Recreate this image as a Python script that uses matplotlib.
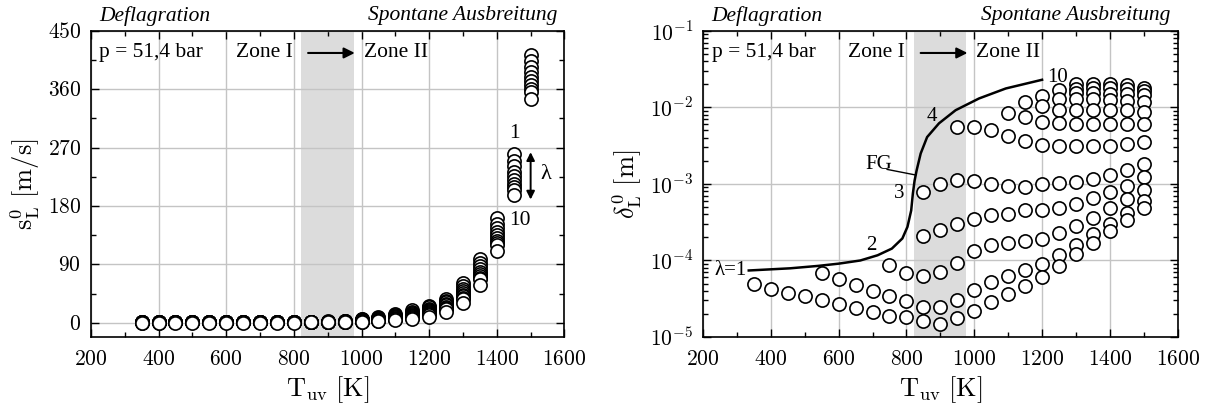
import numpy as np
import matplotlib
matplotlib.use("Agg")
import matplotlib.pyplot as plt
from matplotlib.ticker import MultipleLocator, FuncFormatter, LogLocator, NullFormatter

plt.rcParams['font.family'] = ['Liberation Serif', 'DejaVu Serif']
plt.rcParams['mathtext.fontset'] = 'cm'

# ---- left panel: laminar flame speed, 10 lambda values per temperature
T_left = [350, 400, 450, 500, 550, 600, 650, 700, 750, 800, 850, 900,
          950, 1000, 1050, 1100, 1150, 1200, 1250, 1300, 1350, 1400, 1450, 1500]
s_left = [
    [0.9, 0.8, 0.7, 0.6, 0.5, 0.5, 0.4, 0.4, 0.3, 0.3],
    [0.9, 0.8, 0.7, 0.6, 0.5, 0.5, 0.4, 0.4, 0.3, 0.3],
    [1.0, 0.9, 0.8, 0.7, 0.6, 0.5, 0.5, 0.4, 0.4, 0.3],
    [1.0, 0.9, 0.8, 0.7, 0.6, 0.5, 0.5, 0.4, 0.4, 0.3],
    [1.0, 0.9, 0.8, 0.7, 0.6, 0.6, 0.5, 0.4, 0.4, 0.3],
    [1.1, 0.9, 0.8, 0.7, 0.6, 0.6, 0.5, 0.4, 0.4, 0.3],
    [1.1, 1.0, 0.9, 0.8, 0.7, 0.6, 0.5, 0.5, 0.4, 0.3],
    [1.1, 1.0, 0.9, 0.8, 0.7, 0.6, 0.5, 0.5, 0.4, 0.3],
    [1.2, 1.0, 0.9, 0.8, 0.7, 0.6, 0.6, 0.5, 0.4, 0.3],
    [1.2, 1.1, 0.9, 0.8, 0.7, 0.6, 0.6, 0.5, 0.4, 0.3],
    [1.5, 1.3, 1.2, 1.0, 0.9, 0.8, 0.7, 0.6, 0.5, 0.4],
    [2.0, 1.8, 1.6, 1.4, 1.2, 1.1, 1.0, 0.9, 0.8, 0.6],
    [3.0, 2.7, 2.4, 2.1, 1.9, 1.7, 1.5, 1.3, 1.2, 0.9],
    [6.0, 5.2, 4.5, 3.9, 3.4, 2.9, 2.5, 2.1, 1.8, 1.2],
    [9.0, 7.9, 7.0, 6.1, 5.4, 4.7, 4.1, 3.6, 3.1, 2.2],
    [13.0, 11.6, 10.3, 9.2, 8.2, 7.3, 6.5, 5.8, 5.2, 4.0],
    [19.0, 17.0, 15.2, 13.6, 12.2, 11.0, 9.9, 8.9, 8.0, 6.0],
    [26.0, 23.5, 21.2, 19.3, 17.6, 16.0, 14.7, 13.5, 12.4, 9.5],
    [37.0, 34.0, 31.3, 29.0, 26.9, 25.0, 23.3, 21.8, 20.5, 17.0],
    [61.0, 56.0, 52.0, 48.5, 45.5, 43.0, 40.7, 38.7, 37.0, 31.0],
    [98.0, 92.0, 87.0, 82.5, 78.5, 75.0, 72.0, 69.3, 67.0, 58.0],
    [161.0, 153.0, 146.0, 140.0, 135.0, 130.5, 126.5, 123.0, 120.0, 110.0],
    [260.0, 250.0, 241.0, 233.0, 226.0, 220.0, 214.5, 209.5, 205.0, 197.0],
    [413.0, 403.0, 394.0, 386.0, 379.0, 372.5, 366.5, 361.0, 356.0, 345.0],
]

# ---- right panel: flame thickness points per temperature column
T_right = T_left
d_right = [
    [4.9e-5],
    [4.3e-5],
    [3.8e-5],
    [3.4e-5],
    [6.8e-5, 3.0e-5],
    [5.7e-5, 2.7e-5],
    [4.8e-5, 2.4e-5],
    [4.0e-5, 2.1e-5],
    [8.7e-5, 3.4e-5, 1.9e-5],
    [6.9e-5, 2.95e-5, 1.8e-5],
    [7.8e-4, 2.1e-4, 6.3e-5, 2.5e-5, 1.6e-5],
    [1.0e-3, 2.5e-4, 7.0e-5, 2.5e-5, 1.5e-5],
    [5.6e-3, 1.12e-3, 3.0e-4, 9.4e-5, 3.0e-5, 1.75e-5],
    [5.6e-3, 1.1e-3, 3.5e-4, 1.32e-4, 4.1e-5, 2.2e-5],
    [5.0e-3, 1.0e-3, 3.9e-4, 1.6e-4, 5.3e-5, 2.9e-5],
    [8.5e-3, 4.2e-3, 9.3e-4, 4.1e-4, 1.7e-4, 6.2e-5, 3.6e-5],
    [1.19e-2, 7.4e-3, 3.6e-3, 9.0e-4, 4.5e-4, 1.8e-4, 7.4e-5, 4.6e-5],
    [1.42e-2, 1.04e-2, 6.4e-3, 3.2e-3, 1.0e-3, 4.6e-4, 1.9e-4, 9.1e-5, 6.1e-5],
    [1.67e-2, 1.3e-2, 9.4e-3, 6.2e-3, 3.15e-3, 1.02e-3, 4.9e-4, 2.3e-4, 1.17e-4, 8.5e-5],
    [2.0e-2, 1.75e-2, 1.53e-2, 1.28e-2, 9.2e-3, 6.0e-3, 3.15e-3, 1.05e-3, 5.5e-4, 2.8e-4, 1.6e-4, 1.2e-4],
    [2.0e-2, 1.77e-2, 1.55e-2, 1.3e-2, 9.2e-3, 6.0e-3, 3.1e-3, 1.15e-3, 6.6e-4, 3.6e-4, 2.2e-4, 1.7e-4],
    [2.0e-2, 1.77e-2, 1.52e-2, 1.27e-2, 9.2e-3, 6.0e-3, 3.15e-3, 1.32e-3, 7.9e-4, 4.8e-4, 3.0e-4, 2.4e-4],
    [1.94e-2, 1.72e-2, 1.48e-2, 1.22e-2, 9.2e-3, 6.0e-3, 3.3e-3, 1.5e-3, 9.5e-4, 6.3e-4, 4.2e-4, 3.4e-4],
    [1.82e-2, 1.65e-2, 1.45e-2, 1.19e-2, 8.8e-3, 6.0e-3, 3.5e-3, 1.8e-3, 1.25e-3, 8.4e-4, 5.9e-4, 4.8e-4],
]

# FG curve
T_fg = [335, 457, 540, 601, 664, 715, 757, 788, 803, 814, 819, 824, 830, 842,
        861, 896, 945, 1014, 1093, 1200]
d_fg = [7.4e-5, 7.9e-5, 8.5e-5, 9.1e-5, 1.0e-4, 1.17e-4, 1.43e-4, 1.94e-4, 2.75e-4,
        4.5e-4, 7.5e-4, 1.1e-3, 1.5e-3, 2.5e-3, 4.1e-3, 6.2e-3, 9.2e-3, 1.31e-2,
        1.77e-2, 2.3e-2]

fig = plt.figure(figsize=(12.11, 4.07), dpi=100)
ax1 = fig.add_axes([0.0751, 0.172, 0.391, 0.752])
ax2 = fig.add_axes([0.5805, 0.172, 0.392, 0.752])

mk = dict(marker='o', ms=9.5, mfc='white', mec='black', mew=1.2, ls='none', zorder=3)

for T, vals in zip(T_left, s_left):
    ax1.plot([T] * len(vals), vals, **mk)
for T, vals in zip(T_right, d_right):
    ax2.plot([T] * len(vals), vals, **mk)
ax2.plot(T_fg, d_fg, color='black', lw=1.8, zorder=4)

for ax in (ax1, ax2):
    ax.axvspan(822, 977, color='#dcdcdc', lw=0, zorder=0)
    ax.set_xlim(200, 1600)
    ax.xaxis.set_major_locator(MultipleLocator(200))
    ax.xaxis.set_minor_locator(MultipleLocator(100))
    ax.xaxis.set_major_formatter(FuncFormatter(lambda v, p: r'$%d$' % v))
    ax.grid(True, which='major', color='#c4c4c4', lw=1.0, zorder=1)
    ax.tick_params(which='both', direction='in', top=True, right=True, labelsize=15.5)
    ax.tick_params(axis='x', pad=10)
    ax.tick_params(axis='y', pad=7)
    ax.tick_params(which='major', length=6, width=1)
    ax.tick_params(which='minor', length=3.5, width=1)
    for sp in ax.spines.values():
        sp.set_linewidth(1.2)
    ax.set_xlabel(r'$\mathrm{T_{uv}\ [K]}$', fontsize=19, labelpad=3)
    ax.text(0.017, 1.05, 'Deflagration', style='italic', fontsize=15.5,
            transform=ax.transAxes, ha='left', va='center')
    ax.text(0.985, 1.05, 'Spontane Ausbreitung', style='italic', fontsize=15.5,
            transform=ax.transAxes, ha='right', va='center')
    ax.text(0.018, 0.928, 'p = 51,4 bar', fontsize=15.5, transform=ax.transAxes,
            ha='left', va='center')
    ax.text(628, 0.928, 'Zone I', fontsize=15.5, ha='left', va='center',
            transform=ax.get_xaxis_transform())
    ax.text(1006, 0.928, 'Zone II', fontsize=15.5, ha='left', va='center',
            transform=ax.get_xaxis_transform())
    ax.annotate('', xy=(980, 0.928), xytext=(842, 0.928),
                xycoords=ax.get_xaxis_transform(), textcoords=ax.get_xaxis_transform(),
                arrowprops=dict(arrowstyle='-|>', color='black', lw=1.5,
                                mutation_scale=16, shrinkA=0, shrinkB=0))

# left axis
ax1.set_ylim(-22, 450)
ax1.yaxis.set_major_locator(MultipleLocator(90))
ax1.yaxis.set_minor_locator(MultipleLocator(45))
ax1.yaxis.set_major_formatter(FuncFormatter(lambda v, p: r'$%d$' % v))
ax1.set_ylabel(r'$\mathrm{s_L^0\ [m/s]}$', fontsize=19, labelpad=4)
ax1.text(1452, 292, '1', fontsize=15.5, ha='center', va='center')
ax1.text(1468, 157, '10', fontsize=15.5, ha='center', va='center')
ax1.annotate('', xy=(1500, 190), xytext=(1500, 263),
             arrowprops=dict(arrowstyle='<|-|>', color='black', lw=1.4,
                             mutation_scale=12, shrinkA=0, shrinkB=0))
ax1.text(1545, 228, '\u03bb', fontsize=16, ha='center', va='center')

# right axis
ax2.set_yscale('log')
ax2.set_ylim(1e-5, 1e-1)
ax2.yaxis.set_major_locator(LogLocator(base=10, numticks=10))
ax2.yaxis.set_minor_locator(LogLocator(base=10, subs=np.arange(2, 10), numticks=20))
ax2.yaxis.set_minor_formatter(NullFormatter())
ax2.yaxis.set_major_formatter(FuncFormatter(lambda v, p: r'$10^{%d}$' % round(np.log10(v))))
ax2.set_ylabel(r'$\delta_\mathrm{L}^0\ \mathrm{[m]}$', fontsize=19, labelpad=4)
ax2.text(330, 7.5e-5, '\u03bb=1', fontsize=15, ha='right', va='center')
ax2.text(695, 1.55e-4, '2', fontsize=15, ha='center', va='center')
ax2.text(779, 7.4e-4, '3', fontsize=15, ha='center', va='center')
ax2.text(876, 7.6e-3, '4', fontsize=15, ha='center', va='center')
ax2.text(1246, 2.45e-2, '10', fontsize=15, ha='center', va='center')
ax2.text(718, 1.78e-3, 'FG', fontsize=15, ha='center', va='center')
ax2.plot([743, 827], [1.55e-3, 1.31e-3], color='black', lw=1.0, zorder=4)

fig.savefig('out.png', dpi=100)
